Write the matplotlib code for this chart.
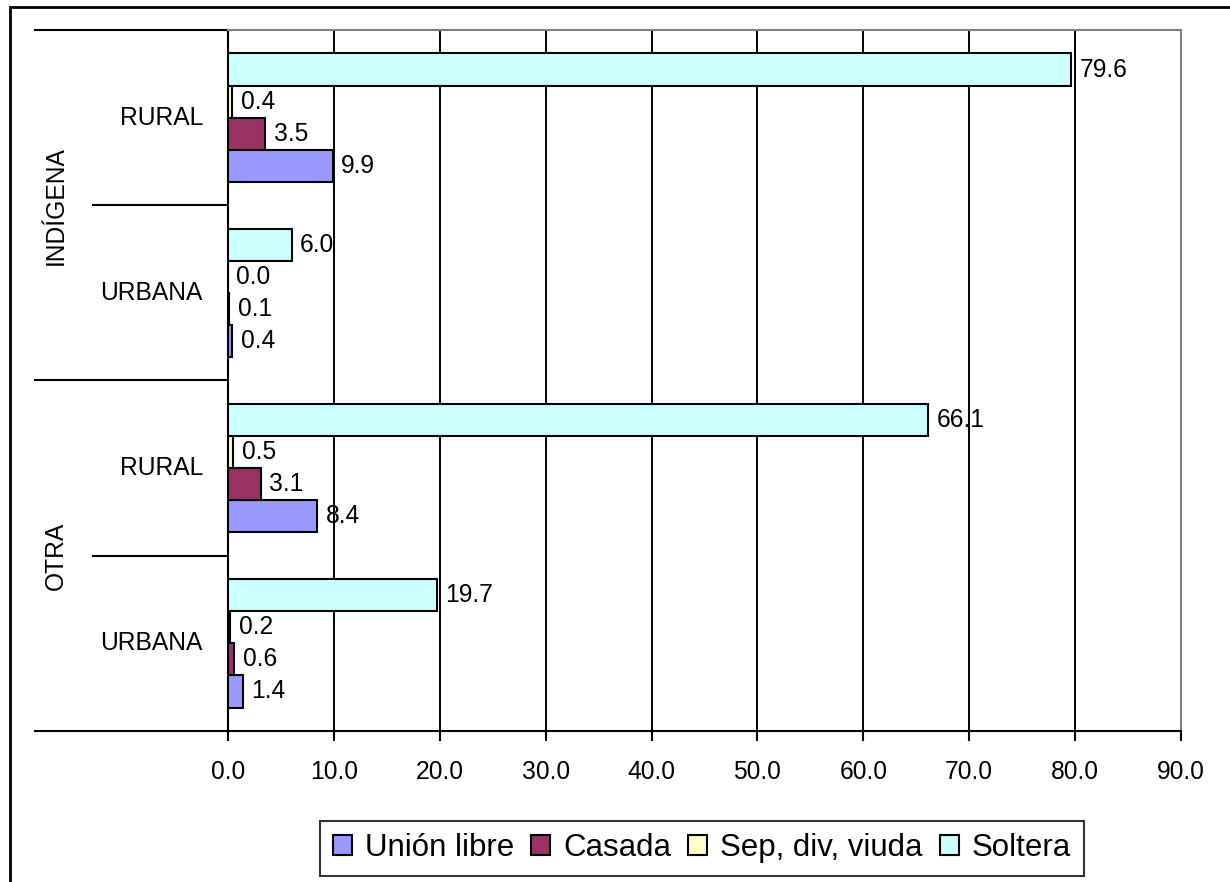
import matplotlib
matplotlib.use("Agg")
import matplotlib.pyplot as plt
from matplotlib.patches import Rectangle
import numpy as np

plt.rcParams['font.family'] = ['Liberation Sans', 'DejaVu Sans']

# categories from bottom to top
groups = ['OTRA', 'OTRA', 'INDÍGENA', 'INDÍGENA']
areas = ['URBANA', 'RURAL', 'URBANA', 'RURAL']

series = ['Unión libre', 'Casada', 'Sep, div, viuda', 'Soltera']
union_libre = [1.4, 8.4, 0.4, 9.9]
casada = [0.6, 3.1, 0.1, 3.5]
sep_div_viuda = [0.2, 0.5, 0.0, 0.4]
soltera = [19.7, 66.1, 6.0, 79.6]

colors = ['#9999FF', '#993366', '#FFFFCC', '#CCFFFF']
values = [union_libre, casada, sep_div_viuda, soltera]

W, H = 1230, 882
fig = plt.figure(figsize=(W / 100, H / 100), dpi=100)
ax = fig.add_axes([228 / W, 1 - 731 / H, 953 / W, 701 / H])

y = np.arange(len(areas))
bh = 0.183
for i, (name, vals, col) in enumerate(zip(series, values, colors)):
    pos = y + (i - 1.5) * bh
    ax.barh(pos, vals, height=bh, color=col, edgecolor='black', linewidth=1.5,
            label=name, zorder=3)
    for p, v in zip(pos, vals):
        ax.text(v + 0.8, p, f"{v:.1f}", va='center', ha='left', fontsize=17.7, zorder=4)

ax.set_xlim(0, 90)
ax.set_ylim(-0.5, 3.5)
ax.set_xticks(np.arange(0, 91, 10))
ax.set_xticklabels([f"{t:.1f}" for t in np.arange(0, 91, 10)], fontsize=17.7)
ax.tick_params(axis='x', direction='out', length=7, width=1.5, pad=14)
ax.set_yticks([])
ax.grid(axis='x', color='black', linewidth=1.4, zorder=0)
ax.set_axisbelow(True)

ax.spines['left'].set_linewidth(1.5)
ax.spines['bottom'].set_linewidth(1.5)
for s in ['top', 'right']:
    ax.spines[s].set_color('#808080')
    ax.spines[s].set_linewidth(1.5)

# two-level category axis
tr = ax.get_yaxis_transform()
x_long = (35 - 228) / 953
x_short = (93 - 228) / 953
for b in [-0.5, 1.5, 3.5]:
    ax.plot([x_long, 0], [b, b], color='black', lw=1.5, transform=tr, clip_on=False)
for b in [0.5, 2.5]:
    ax.plot([x_short, 0], [b, b], color='black', lw=1.5, transform=tr, clip_on=False)
for yy, a in zip(y, areas):
    ax.text((203 - 228) / 953, yy, a, transform=tr, ha='right', va='center', fontsize=17.7)
for yy, g in [(0.5, groups[0]), (2.5, groups[2])]:
    ax.text((56 - 228) / 953, yy, g, transform=tr, ha='center', va='center',
            rotation=90, fontsize=17.7)

leg = fig.legend(loc='center', bbox_to_anchor=(702 / W, 1 - 848 / H), ncol=4,
                 fontsize=22.5, frameon=True, fancybox=False, edgecolor='black',
                 handlelength=0.6, handleheight=0.6, handletextpad=0.42,
                 columnspacing=0.55, borderpad=0.4, borderaxespad=0)
leg.get_frame().set_linewidth(1.5)

# outer chart border (left and top visible)
fig.add_artist(Rectangle((10 / W, -0.2), 1.5, 1 - 7 / H + 0.2, transform=fig.transFigure,
                         fill=False, edgecolor='black', linewidth=2))

fig.savefig('out.png', dpi=100)
